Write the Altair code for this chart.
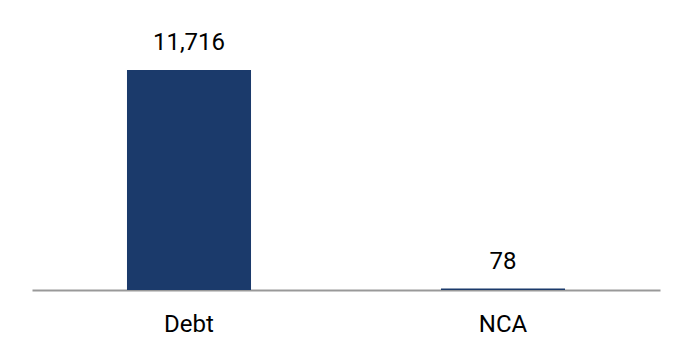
import altair as alt
import pandas as pd

categories = ["Debt", "NCA"]
values = [11716, 78]
labels = ["11,716", "78"]

df = pd.DataFrame({"cat": categories, "val": values, "lab": labels})

x = alt.X("cat:N", sort=categories, title=None,
          scale=alt.Scale(paddingInner=0.605, paddingOuter=0.3025),
          axis=alt.Axis(labelAngle=0, labelFont="Roboto", labelFontSize=24,
                        labelColor="#000000", labelPadding=22, ticks=False,
                        domainColor="#999999", domainWidth=2, grid=False))
y = alt.Y("val:Q", title=None, scale=alt.Scale(domain=[0, 14378], nice=False),
          axis=None)

bars = alt.Chart(df).mark_bar(color="#1b3a6b").encode(x=x, y=y)
text = alt.Chart(df).mark_text(font="Roboto", fontSize=24,
                               color="#000000",
                               baseline="alphabetic", dy=-20).encode(
    x=alt.X("cat:N", sort=categories), y="val:Q", text="lab:N")

chart = alt.layer(bars, text).properties(
    width=628, height=270,
    autosize=alt.AutoSizeParams(type="none"),
    padding={"left": 32, "top": 20, "right": 20, "bottom": 73},
    background="white",
).configure_view(stroke=None, strokeWidth=0)

chart.save("out.html", embed_options={"renderer": "svg", "actions": False})
